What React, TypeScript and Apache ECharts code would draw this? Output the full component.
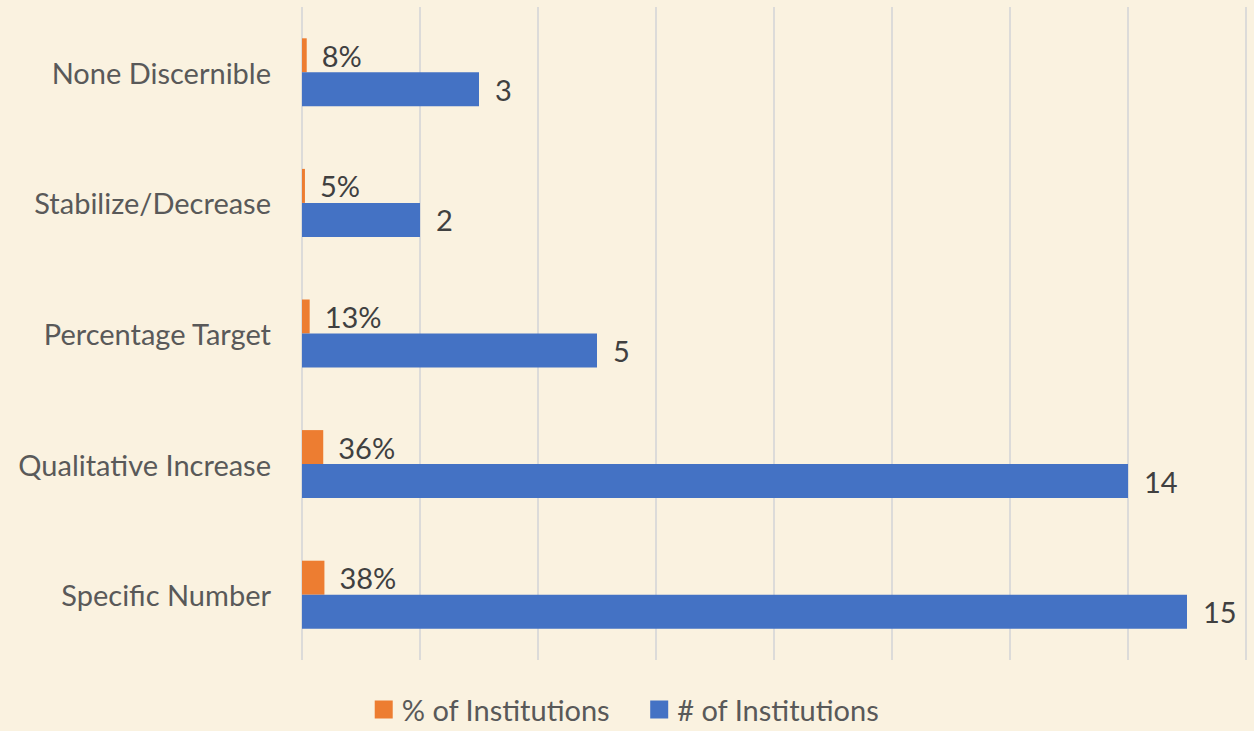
import React, { useEffect, useRef } from "react";
import * as echarts from "echarts";

const categories = [
  "Specific Number",
  "Qualitative Increase",
  "Percentage Target",
  "Stabilize/Decrease",
  "None Discernible",
];
const pctValues = [0.38, 0.36, 0.13, 0.05, 0.08];
const countValues = [15, 14, 5, 2, 3];
const seriesNames = ["% of Institutions", "# of Institutions"];

const FONT = "Lato";
const FS = 29;

export default function App() {
  const ref = useRef<HTMLDivElement>(null);
  useEffect(() => {
    if (!ref.current) return;
    const chart = echarts.init(ref.current, undefined, { renderer: "svg" });
    chart.setOption({
      animation: false,
      backgroundColor: "#FAF2E0",
      textStyle: { fontFamily: FONT },
      grid: { left: 302, right: 8, top: 7, bottom: 71, containLabel: false },
      legend: {
        data: seriesNames,
        top: 695,
        left: "center",
        padding: [0, 0, 0, 0],
        itemWidth: 18,
        itemHeight: 18,
        itemGap: 40,
        icon: "rect",
        textStyle: {
          fontSize: FS,
          color: "#595959",
          fontFamily: FONT,
          padding: [0, 0, 0, 4],
        },
      },
      xAxis: {
        type: "value",
        min: 0,
        max: 16,
        interval: 2,
        axisLabel: { show: false },
        axisLine: { show: false },
        axisTick: { show: false },
        splitLine: { show: true, lineStyle: { color: "#D9D9D9", width: 1.8 } },
      },
      yAxis: {
        type: "category",
        data: categories,
        axisLine: { show: false },
        axisTick: { show: false },
        axisLabel: { fontSize: FS, color: "#595959", margin: 31, fontFamily: FONT },
      },
      series: [
        {
          name: seriesNames[0],
          type: "bar",
          data: pctValues,
          barWidth: 34,
          barGap: "0%",
          itemStyle: { color: "#ED7D31" },
          label: {
            show: true,
            position: "right",
            distance: 15,
            fontSize: FS,
            color: "#404040",
            fontFamily: FONT,
            formatter: (p: any) => Math.round(p.value * 100) + "%",
          },
        },
        {
          name: seriesNames[1],
          type: "bar",
          data: countValues,
          barWidth: 34,
          barGap: "0%",
          itemStyle: { color: "#4472C4" },
          label: {
            show: true,
            position: "right",
            distance: 16,
            fontSize: FS,
            color: "#404040",
            fontFamily: FONT,
          },
        },
      ],
    });
    return () => chart.dispose();
  }, []);
  return (
    <div
      ref={ref}
      style={{ position: "fixed", left: 0, top: 0, width: 1254, height: 731 }}
    />
  );
}
